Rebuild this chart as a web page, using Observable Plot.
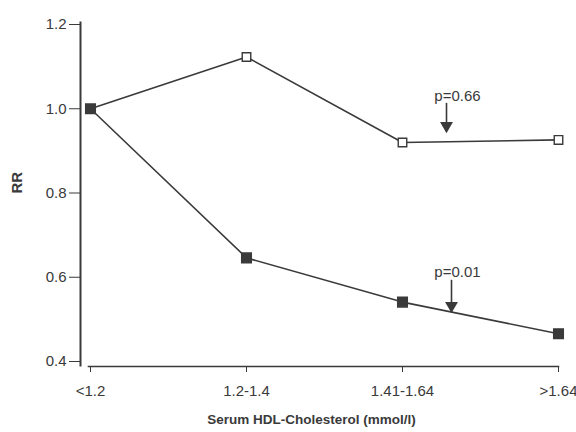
<!DOCTYPE html>
<html><head><meta charset="utf-8">
<script src="https://cdn.jsdelivr.net/npm/d3@7"></script>
<script src="https://cdn.jsdelivr.net/npm/@observablehq/plot@0.6"></script>
<style>body{margin:0;background:#fff}</style>
</head><body><div id="chart"></div>
<script>
const categories = ["<1.2", "1.2-1.4", "1.41-1.64", ">1.64"];
const openValues = [1.0, 1.123, 0.920, 0.926];
const filledValues = [1.0, 0.646, 0.541, 0.466];
const yTicks = [0.4, 0.6, 0.8, 1.0, 1.2];
const annotationLabels = ["p=0.66", "p=0.01"];
const annotationTextY = [1.031, 0.613];
const annotationArrowFrom = [1.014, 0.594];
const annotationArrowTo = [0.962, 0.535];
const annotationShift = [44, 49];

const openData = categories.map((c, i) => ({c, v: openValues[i]}));
const filledData = categories.map((c, i) => ({c, v: filledValues[i]}));
const annotations = annotationLabels.map((label, i) => ({
  label, x: "1.41-1.64", yText: annotationTextY[i], yFrom: annotationArrowFrom[i], yTo: annotationArrowTo[i], shift: annotationShift[i]
}));
const ink = "#3a3a3a";

const arrowMarks = annotations.flatMap(a => [
  Plot.link([a], {x1: "x", x2: "x", y1: "yFrom", y2: "yTo", dx: a.shift, stroke: ink, strokeWidth: 1.6}),
  Plot.dot([a], {x: "x", y: "yTo", dx: a.shift, dy: 1, symbol: "triangle", rotate: 180, r: 4.8, fill: ink, stroke: "none"})
]);

const chart = Plot.plot({
  width: 576, height: 432,
  marginLeft: 80, marginRight: 18, marginTop: 24, marginBottom: 66,
  insetLeft: 9, insetBottom: 5,
  style: {fontFamily: "'Liberation Sans', Arial, sans-serif", fontSize: "15px", color: ink, background: "#fff"},
  x: {type: "point", domain: categories, padding: 0},
  y: {domain: [0.4, 1.2]},
  marks: [
    Plot.frame({anchor: "left", insetTop: -2, insetBottom: 1, stroke: ink, strokeWidth: 2}),
    Plot.frame({anchor: "bottom", insetLeft: 8, stroke: ink, strokeWidth: 1.6}),
    Plot.axisY({ticks: yTicks, tickFormat: d3.format(".1f"), tickSize: 11, tickPadding: 3, stroke: ink, fill: ink, fontSize: 15, label: null}),
    Plot.axisX({tickSize: 6, tickPadding: 13, stroke: ink, fill: ink, fontSize: 15, label: null}),
    Plot.text(["Serum HDL-Cholesterol (mmol/l)"], {frameAnchor: "bottom", dy: 57, dx: -8, fontWeight: "bold", fontSize: 13.5, fill: ink}),
    Plot.text(["RR"], {frameAnchor: "left", dx: -63, dy: -2, rotate: -90, fontWeight: "bold", fontSize: 15, fill: ink}),
    Plot.line(openData, {x: "c", y: "v", stroke: ink, strokeWidth: 1.6}),
    Plot.line(filledData, {x: "c", y: "v", stroke: ink, strokeWidth: 1.6}),
    Plot.dot(openData.slice(1), {x: "c", y: "v", symbol: "square", r: 4.8, fill: "#fff", stroke: ink, strokeWidth: 1.4}),
    Plot.dot(filledData, {x: "c", y: "v", symbol: "square", r: 5.4, fill: ink, stroke: ink}),
    Plot.text(annotations, {x: "x", y: "yText", text: "label", dx: 55, fontSize: 15, fill: ink}),
    ...arrowMarks
  ]
});
document.getElementById("chart").appendChild(chart);
</script></body></html>
